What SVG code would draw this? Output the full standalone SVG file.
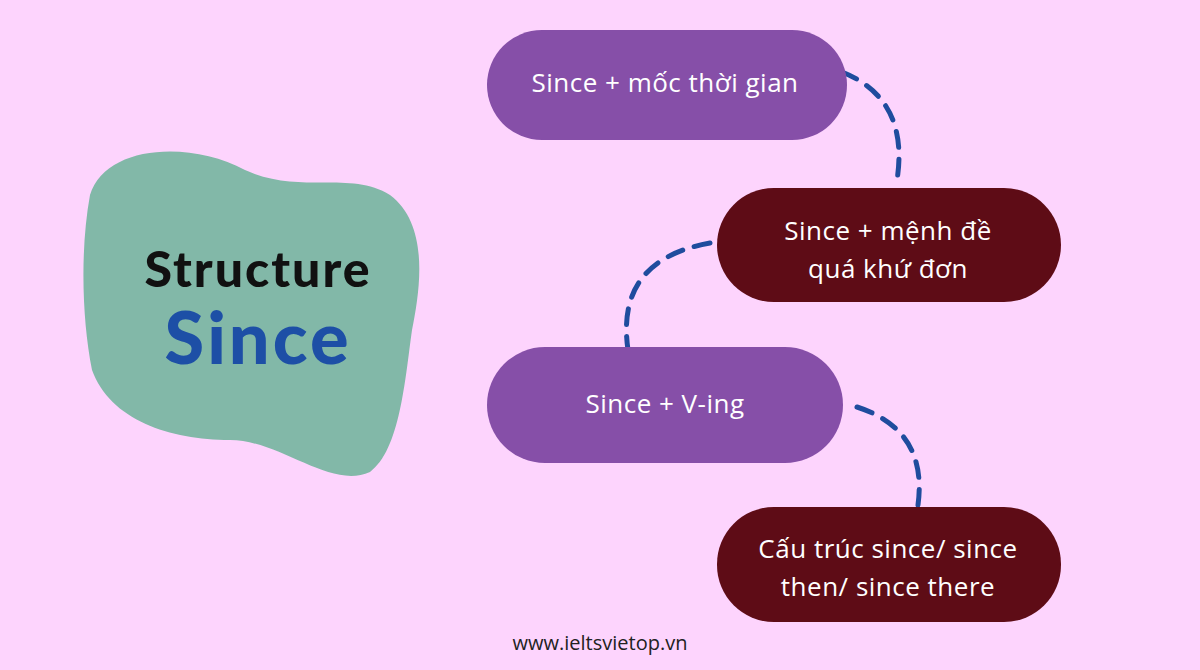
<svg xmlns="http://www.w3.org/2000/svg" width="1200" height="670" viewBox="0 0 1200 670">
<style>
.pt{font-family:"Open Sans","Liberation Sans",sans-serif;font-size:26px;fill:#fff;text-anchor:middle;letter-spacing:0.5px}
.c{fill:none;stroke:#1f4c9e;stroke-width:5;stroke-dasharray:16 12;stroke-linecap:round}
</style>
<rect width="1200" height="670" fill="#fdd4fd"/>
<g id="center">
<path d="M90,195 C105,145 190,140 245,170 C300,195 350,170 390,195 C430,225 420,290 412,330 C405,380 400,450 370,472 C330,490 280,440 230,440 C170,440 110,420 92,370 C82,320 80,250 90,195 Z" fill="#82b8a8"/>
<text x="258" y="287" font-family="Lato,'Liberation Sans',sans-serif" font-weight="900" font-size="50" letter-spacing="2" text-anchor="middle" fill="#111">Structure</text>
<text x="258" y="364" font-family="Lato,'Liberation Sans',sans-serif" font-weight="900" font-size="72" letter-spacing="3" text-anchor="middle" fill="#1d4fa6">Since</text>
</g>
<g id="connectors">
<path class="c" d="M842,72 Q912,100 896,186"/>
<path class="c" d="M710,243 Q615,260 628,350"/>
<path class="c" d="M857,407 Q928,430 918,505"/>
</g>
<g id="n1"><rect x="487" y="30" width="360" height="110" rx="55" fill="#864fa8"/><text class="pt" x="665" y="92">Since + mốc thời gian</text></g>
<g id="n2"><rect x="717" y="188" width="344" height="114" rx="57" fill="#5e0c16"/><text class="pt" x="888" y="240">Since + mệnh đề</text><text class="pt" x="888" y="278">quá khứ đơn</text></g>
<g id="n3"><rect x="487" y="347" width="356" height="116" rx="58" fill="#864fa8"/><text class="pt" x="665" y="413">Since + V-ing</text></g>
<g id="n4"><rect x="717" y="507" width="344" height="115" rx="57" fill="#5e0c16"/><text class="pt" x="888" y="558">Cấu trúc since/ since</text><text class="pt" x="888" y="596">then/ since there</text></g>
<text x="600" y="650" font-family="'Open Sans','Liberation Sans',sans-serif" font-size="20" text-anchor="middle" fill="#222">www.ieltsvietop.vn</text>
</svg>
